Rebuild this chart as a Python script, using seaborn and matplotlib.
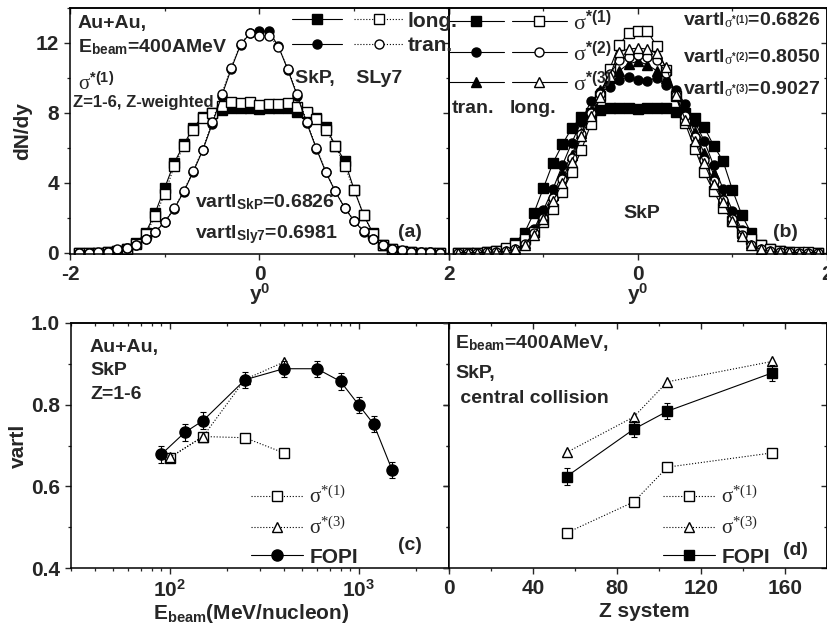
import numpy as np
import matplotlib
matplotlib.use("Agg")
import matplotlib.pyplot as plt
from matplotlib.legend_handler import HandlerTuple
from matplotlib.ticker import NullFormatter, FixedLocator
import seaborn as sns

# --- rapidity distributions, panels (a) and (b) ---
y0 = [-1.9, -1.8, -1.7, -1.6, -1.5, -1.4, -1.3, -1.2, -1.1, -1.0,
      -0.9, -0.8, -0.7, -0.6, -0.5, -0.4, -0.3, -0.2, -0.1, 0.0,
      0.1, 0.2, 0.3, 0.4, 0.5, 0.6, 0.7, 0.8, 0.9, 1.0,
      1.1, 1.2, 1.3, 1.4, 1.5, 1.6, 1.7, 1.8, 1.9]

long_skp = [0, 0, 0, 0.02, 0.08, 0.22, 0.55, 1.15, 2.29, 3.71,
            5.14, 6.19, 7.14, 7.77, 8.0, 8.19, 8.25, 8.29, 8.29, 8.2,
            8.3, 8.3, 8.28, 8.06, 8.0, 7.68, 7.18, 6.13, 5.24, 3.58,
            2.13, 1.1, 0.45, 0.2, 0.07, 0.02, 0, 0, 0]
long_sly7 = [0, 0, 0, 0.02, 0.07, 0.2, 0.51, 1.05, 2.1, 3.37,
             4.95, 6.1, 7.0, 7.71, 8.0, 8.38, 8.63, 8.57, 8.6, 8.44,
             8.53, 8.48, 8.57, 8.34, 8.04, 7.62, 6.99, 6.13, 4.95, 3.58,
             2.13, 1.05, 0.42, 0.19, 0.06, 0.02, 0, 0, 0]
tran_skp = [0, 0, 0, 0.03, 0.12, 0.27, 0.45, 0.78, 1.18, 1.75,
            2.5, 3.48, 4.62, 5.85, 7.35, 8.95, 10.5, 11.9, 12.55, 12.67,
            12.67, 11.8, 10.45, 8.95, 7.4, 5.95, 4.6, 3.5, 2.55, 1.8,
            1.2, 0.75, 0.42, 0.22, 0.12, 0.05, 0.03, 0.01, 0]
tran_sly7 = [0, 0, 0.01, 0.05, 0.19, 0.29, 0.42, 0.8, 1.2, 1.77,
             2.53, 3.52, 4.67, 5.9, 7.47, 9.05, 10.57, 11.94, 12.57, 12.38,
             12.42, 11.77, 10.51, 9.05, 7.47, 6.0, 4.63, 3.52, 2.57, 1.81,
             1.24, 0.76, 0.42, 0.23, 0.13, 0.06, 0.04, 0.02, 0]

# panel (b): sigma*(1) curves are the SkP curves of panel (a)
tran_s1 = long_skp
long_s1 = tran_skp
tran_s2 = [0, 0, 0, 0.02, 0.05, 0.12, 0.3, 0.65, 1.35, 2.45,
           3.64, 5.0, 6.3, 7.5, 8.65, 9.2, 9.45, 9.9, 10.05, 9.9,
           9.85, 10.0, 9.6, 9.3, 8.5, 7.5, 6.4, 5.0, 3.65, 2.4,
           1.3, 0.6, 0.28, 0.12, 0.05, 0.02, 0, 0, 0]
long_s2 = [0, 0, 0, 0.02, 0.04, 0.08, 0.22, 0.5, 1.1, 2.0,
           3.1, 4.2, 5.4, 6.8, 8.0, 9.1, 10.2, 11.0, 11.2, 11.3,
           11.2, 11.0, 10.3, 9.0, 7.8, 6.6, 5.3, 4.1, 3.0, 1.9,
           1.0, 0.45, 0.2, 0.08, 0.03, 0.01, 0, 0, 0]
tran_s3 = [0, 0, 0, 0.02, 0.05, 0.1, 0.25, 0.55, 1.2, 2.3,
           3.3, 4.56, 5.6, 6.84, 8.1, 9.3, 10.0, 10.4, 10.8, 10.95,
           10.75, 10.4, 10.0, 9.2, 8.1, 6.9, 5.7, 4.5, 3.2, 2.2,
           1.15, 0.55, 0.22, 0.1, 0.04, 0.02, 0, 0, 0]
long_s3 = [0, 0, 0, 0.02, 0.04, 0.08, 0.2, 0.45, 1.0, 1.9,
           2.94, 3.98, 5.2, 6.65, 7.8, 8.9, 10.1, 11.5, 11.65, 11.7,
           11.65, 11.4, 10.6, 9.0, 7.6, 6.4, 5.1, 3.9, 2.9, 1.8,
           0.95, 0.42, 0.18, 0.07, 0.03, 0.01, 0, 0, 0]

# --- panel (c): vartl vs beam energy ---
e_fopi = [90, 120, 150, 250, 400, 600, 800, 1000, 1200, 1500]
v_fopi = [0.678, 0.732, 0.761, 0.861, 0.888, 0.888, 0.857, 0.799, 0.752, 0.640]
err_fopi = [0.02, 0.02, 0.02, 0.02, 0.02, 0.02, 0.02, 0.02, 0.02, 0.02]
e_sim = [100, 150, 250, 400]
v_s1_e = [0.670, 0.722, 0.719, 0.682]
v_s3_e = [0.671, 0.722, 0.862, 0.904]

# --- panel (d): vartl vs Z of the system ---
z_sys = [56, 88, 104, 154]
v_fopi_z = [0.624, 0.740, 0.784, 0.878]
err_fopi_z = [0.02, 0.02, 0.02, 0.02]
v_s1_z = [0.486, 0.562, 0.647, 0.682]
v_s3_z = [0.683, 0.770, 0.856, 0.906]

sns.set_theme(style="ticks")
plt.rcParams["font.family"] = ["Liberation Sans", "DejaVu Sans"]
plt.rcParams["font.weight"] = "bold"
plt.rcParams["axes.unicode_minus"] = False
plt.rcParams["mathtext.fontset"] = "custom"
plt.rcParams["mathtext.rm"] = "Liberation Serif:weight=normal"
plt.rcParams["mathtext.it"] = "Liberation Serif:italic:weight=normal"
plt.rcParams["mathtext.bf"] = "Liberation Sans:bold"
plt.rcParams["axes.linewidth"] = 1.1
plt.rcParams["axes.edgecolor"] = "black"

fig = plt.figure(figsize=(8.28, 6.26), dpi=100)
W, H = 828, 626


def box(x0, x1, ytop, ybot):
    return [x0 / W, 1 - ybot / H, (x1 - x0) / W, (ybot - ytop) / H]


ax_a = fig.add_axes(box(70, 449, 8, 254))
ax_b = fig.add_axes(box(449, 827, 8, 254))
ax_c = fig.add_axes(box(71, 449, 323, 568))
ax_d = fig.add_axes(box(449, 827, 323, 568))
ax_b.set_facecolor("none")
ax_a.set_zorder(3)  # let the (a) legend run over into (b)

TS = 15  # tick label size


def draw(ax, x, y, marker, filled, ls, ms=6.5):
    sns.lineplot(x=x, y=y, ax=ax, color="black", marker=marker, linestyle=ls,
                 linewidth=0.8, markersize=ms, markeredgecolor="black",
                 markeredgewidth=1.0,
                 markerfacecolor="black" if filled else "white")
    return ax.lines[-1]


def style(ax, xmaj, xmin, ymaj, ymin, ylab=True):
    ax.set_xticks(xmaj)
    ax.set_xticks(xmin, minor=True)
    ax.set_yticks(ymaj)
    ax.set_yticks(ymin, minor=True)
    ax.tick_params(which="major", direction="out", length=4.5, width=1.0,
                   labelsize=TS, pad=3.5, top=False, right=False)
    ax.tick_params(which="minor", direction="out", length=2.5, width=0.9,
                   top=False, right=False)
    if not ylab:
        ax.yaxis.set_major_formatter(NullFormatter())
    for lab in ax.get_xticklabels() + ax.get_yticklabels():
        lab.set_fontweight("bold")
    top = ax.secondary_xaxis("top")
    top.xaxis.set_major_locator(FixedLocator(xmaj))
    top.xaxis.set_minor_locator(FixedLocator(xmin))
    top.xaxis.set_major_formatter(NullFormatter())
    top.xaxis.set_minor_formatter(NullFormatter())
    top.tick_params(which="major", direction="in", length=4.5, width=1.0)
    top.tick_params(which="minor", direction="in", length=2.5, width=0.9)
    right = ax.secondary_yaxis("right")
    right.yaxis.set_major_locator(FixedLocator(ymaj))
    right.yaxis.set_minor_locator(FixedLocator(ymin))
    right.yaxis.set_major_formatter(NullFormatter())
    right.yaxis.set_minor_formatter(NullFormatter())
    right.tick_params(which="major", direction="in", length=4.5, width=1.0)
    right.tick_params(which="minor", direction="in", length=2.5, width=0.9)


# ---------------- panel (a) ----------------
l_ls = draw(ax_a, y0, long_skp, "s", True, "-")
l_ly = draw(ax_a, y0, long_sly7, "s", False, ":")
t_ls = draw(ax_a, y0, tran_skp, "o", True, "-")
t_ly = draw(ax_a, y0, tran_sly7, "o", False, ":")
ax_a.set_xlim(-2, 2)
ax_a.set_ylim(-0.08, 14)
style(ax_a, [-2, 0, 2], [-1, 1], [0, 4, 8, 12], [2, 6, 10, 14])
ax_a.set_xlabel(r"y$^{\mathbf{0}}$", fontsize=15, fontweight="bold")
ax_a.set_ylabel("dN/dy", fontsize=15, fontweight="bold")
ax_a.xaxis.set_label_coords(0.5, -0.115)
ax_a.yaxis.set_label_coords(-0.10, 0.5)
ax_a.legend([(l_ls, l_ly), (t_ls, t_ly)], ["long.", "tran."],
            handler_map={tuple: HandlerTuple(ndivide=None, pad=0.6)},
            loc="upper left", bbox_to_anchor=(0.585, 0.985), frameon=False,
            handlelength=5.4, handletextpad=0.15, labelspacing=0.25,
            borderaxespad=0, borderpad=0, prop=dict(size=15, weight="bold"))
ta = ax_a.transAxes
ax_a.text(0.021, 0.919, "Au+Au,", transform=ta, fontsize=14, fontweight="bold")
ax_a.text(0.021, 0.821, r"E$_{\mathbf{beam}}$=400AMeV", transform=ta,
          fontsize=14, fontweight="bold")
ax_a.text(0.021, 0.670, r"$\mathrm{\sigma}^{\mathbf{*(1)}}$", transform=ta,
          fontsize=15)
ax_a.text(0.008, 0.598, "Z=1-6, Z-weighted", transform=ta, fontsize=12,
          fontweight="bold")
ax_a.text(0.594, 0.695, "SkP,    SLy7", transform=ta, fontsize=14,
          fontweight="bold")
ax_a.text(0.330, 0.191, r"vartl$_{\mathbf{SkP}}$=0.6826", transform=ta,
          fontsize=14, fontweight="bold")
ax_a.text(0.330, 0.065, r"vartl$_{\mathbf{Sly7}}$=0.6981", transform=ta,
          fontsize=14, fontweight="bold")
ax_a.text(0.866, 0.069, "(a)", transform=ta, fontsize=14, fontweight="bold")

# ---------------- panel (b) ----------------
b1 = draw(ax_b, y0, tran_s1, "s", True, "-")
b2 = draw(ax_b, y0, tran_s2, "o", True, "-")
b3 = draw(ax_b, y0, tran_s3, "^", True, "-")
c1 = draw(ax_b, y0, long_s1, "s", False, "-")
c2 = draw(ax_b, y0, long_s2, "o", False, "-")
c3 = draw(ax_b, y0, long_s3, "^", False, "-")
ax_b.set_xlim(-2, 2)
ax_b.set_ylim(-0.08, 14)
style(ax_b, [-2, 0, 2], [-1, 1], [0, 4, 8, 12], [2, 6, 10, 14], ylab=False)
ax_b.set_xticklabels(["", "0", "2"], fontweight="bold")
ax_b.set_ylabel("")
ax_b.set_xlabel(r"y$^{\mathbf{0}}$", fontsize=15, fontweight="bold")
ax_b.xaxis.set_label_coords(0.5, -0.115)
ax_b.legend([(b1, c1), (b2, c2), (b3, c3)],
            [r"$\mathrm{\sigma}^{\mathbf{*(1)}}$",
             r"$\mathrm{\sigma}^{\mathbf{*(2)}}$",
             r"$\mathrm{\sigma}^{\mathbf{*(3)}}$"],
            handler_map={tuple: HandlerTuple(ndivide=None, pad=0.35)},
            loc="upper left", bbox_to_anchor=(0.0, 0.99), frameon=False,
            handlelength=5.3, handletextpad=0.3, labelspacing=0.3,
            borderaxespad=0, borderpad=0, prop=dict(size=16))
tb = ax_b.transAxes
ax_b.text(0.981, 0.931, r"vartl$_{\mathrm{\sigma}^{\mathbf{*(1)}}}$=0.6826",
          transform=tb, fontsize=14, fontweight="bold", ha="right")
ax_b.text(0.981, 0.780, r"vartl$_{\mathrm{\sigma}^{\mathbf{*(2)}}}$=0.8050",
          transform=tb, fontsize=14, fontweight="bold", ha="right")
ax_b.text(0.981, 0.650, r"vartl$_{\mathrm{\sigma}^{\mathbf{*(3)}}}$=0.9027",
          transform=tb, fontsize=14, fontweight="bold", ha="right")
ax_b.text(0.008, 0.573, "tran.", transform=tb, fontsize=14, fontweight="bold")
ax_b.text(0.161, 0.573, "long.", transform=tb, fontsize=14, fontweight="bold")
ax_b.text(0.511, 0.146, "SkP", transform=tb, fontsize=14, fontweight="bold",
          ha="center")
ax_b.text(0.857, 0.069, "(b)", transform=tb, fontsize=14, fontweight="bold")

# ---------------- panel (c) ----------------
ax_c.set_xscale("log")
s1c = draw(ax_c, e_sim, v_s1_e, "s", False, ":", ms=6.5)
s3c = draw(ax_c, e_sim, v_s3_e, "^", False, ":", ms=7)
ax_c.errorbar(e_fopi, v_fopi, yerr=err_fopi, fmt="none", ecolor="black",
              elinewidth=0.8, capsize=2.5, capthick=0.8)
fc = draw(ax_c, e_fopi, v_fopi, "o", True, "-", ms=8)
ax_c.set_xlim(30, 3000)
ax_c.set_ylim(0.4, 1.0)
minors_c = [30, 40, 50, 60, 70, 80, 90, 200, 300, 400, 500, 600, 700, 800,
            900, 2000, 3000]
style(ax_c, [100, 1000], minors_c, [0.4, 0.6, 0.8, 1.0], [0.5, 0.7, 0.9])
ax_c.xaxis.set_minor_formatter(NullFormatter())
ax_c.set_xticklabels([r"$\mathbf{10^{2}}$", r"$\mathbf{10^{3}}$"])
ax_c.set_yticklabels(["0.4", "0.6", "0.8", "1.0"], fontweight="bold")
ax_c.set_xlabel(r"E$_{\mathbf{beam}}$(MeV/nucleon)", fontsize=15,
                fontweight="bold")
ax_c.set_ylabel("vartl", fontsize=15, fontweight="bold")
ax_c.xaxis.set_label_coords(0.478, -0.14)
ax_c.yaxis.set_label_coords(-0.114, 0.5)
ax_c.legend([s1c, s3c, fc],
            [r"$\mathrm{\sigma}^{*(1)}$", r"$\mathrm{\sigma}^{*(3)}$", "FOPI"],
            loc="upper left", bbox_to_anchor=(0.476, 0.335), frameon=False,
            handlelength=2.5, handletextpad=0.3, labelspacing=0.45,
            borderaxespad=0, borderpad=0, prop=dict(size=15, weight="bold"))
tc = ax_c.transAxes
ax_c.text(0.050, 0.882, "Au+Au,", transform=tc, fontsize=14, fontweight="bold")
ax_c.text(0.050, 0.788, "SkP", transform=tc, fontsize=14, fontweight="bold")
ax_c.text(0.050, 0.690, "Z=1-6", transform=tc, fontsize=14, fontweight="bold")
ax_c.text(0.865, 0.073, "(c)", transform=tc, fontsize=14, fontweight="bold")

# ---------------- panel (d) ----------------
s1d = draw(ax_d, z_sys, v_s1_z, "s", False, ":", ms=6.5)
s3d = draw(ax_d, z_sys, v_s3_z, "^", False, ":", ms=7)
ax_d.errorbar(z_sys, v_fopi_z, yerr=err_fopi_z, fmt="none", ecolor="black",
              elinewidth=0.8, capsize=2.5, capthick=0.8)
fd = draw(ax_d, z_sys, v_fopi_z, "s", True, "-", ms=7)
ax_d.set_xlim(0, 180)
ax_d.set_ylim(0.4, 1.0)
style(ax_d, [0, 40, 80, 120, 160], [20, 60, 100, 140], [0.4, 0.6, 0.8, 1.0],
      [0.5, 0.7, 0.9], ylab=False)
ax_d.set_ylabel("")
ax_d.set_xlabel("Z system", fontsize=15, fontweight="bold")
ax_d.xaxis.set_label_coords(0.518, -0.14)
ax_d.legend([s1d, s3d, fd],
            [r"$\mathrm{\sigma}^{*(1)}$", r"$\mathrm{\sigma}^{*(3)}$", "FOPI"],
            loc="upper left", bbox_to_anchor=(0.566, 0.335), frameon=False,
            handlelength=2.5, handletextpad=0.3, labelspacing=0.45,
            borderaxespad=0, borderpad=0, prop=dict(size=15, weight="bold"))
td = ax_d.transAxes
ax_d.text(0.016, 0.898, r"E$_{\mathbf{beam}}$=400AMeV,", transform=td,
          fontsize=14, fontweight="bold")
ax_d.text(0.016, 0.776, "SkP,", transform=td, fontsize=14, fontweight="bold")
ax_d.text(0.016, 0.673, " central collision", transform=td, fontsize=14,
          fontweight="bold")
ax_d.text(0.884, 0.053, "(d)", transform=td, fontsize=14, fontweight="bold")

fig.savefig("out.png", dpi=100)
